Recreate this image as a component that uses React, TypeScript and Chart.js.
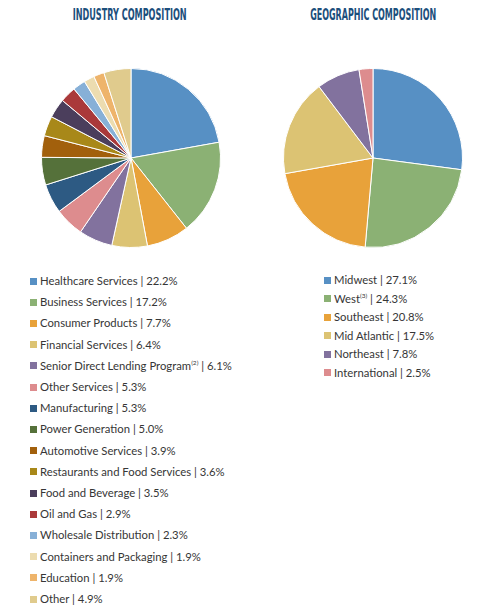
import React, { useEffect, useLayoutEffect, useRef } from "react";
import { Chart, registerables } from "chart.js";

Chart.register(...registerables);

const industryLabels = [
  "Healthcare Services",
  "Business Services",
  "Consumer Products",
  "Financial Services",
  "Senior Direct Lending Program",
  "Other Services",
  "Manufacturing",
  "Power Generation",
  "Automotive Services",
  "Restaurants and Food Services",
  "Food and Beverage",
  "Oil and Gas",
  "Wholesale Distribution",
  "Containers and Packaging",
  "Education",
  "Other",
];
const industryValues = [22.2, 17.2, 7.7, 6.4, 6.1, 5.3, 5.3, 5.0, 3.9, 3.6, 3.5, 2.9, 2.3, 1.9, 1.9, 4.9];
const industryColors = [
  "#5790c4", "#8bb174", "#e8a23a", "#dcc373", "#82729e", "#dd8c8e", "#2d5a83", "#55713a",
  "#a2600c", "#a88819", "#4b3e5c", "#aa393a", "#87b0d7", "#ecdcb0", "#eeb46b", "#e0cb8d",
];
const industryFootnotes: Record<string, string> = { "Senior Direct Lending Program": "(2)" };

const geoLabels = ["Midwest", "West", "Southeast", "Mid Atlantic", "Northeast", "International"];
const geoValues = [27.1, 24.3, 20.8, 17.5, 7.8, 2.5];
const geoColors = ["#5790c4", "#8bb174", "#e8a23a", "#dcc373", "#82729e", "#dd8c8e"];
const geoFootnotes: Record<string, string> = { West: "(3)" };

const titles = ["INDUSTRY COMPOSITION", "GEOGRAPHIC COMPOSITION"];

function Pie(props: { values: number[]; labels: string[]; colors: string[]; left: number; top: number; size: number }) {
  const ref = useRef<HTMLCanvasElement>(null);
  useEffect(() => {
    const chart = new Chart(ref.current as HTMLCanvasElement, {
      type: "pie",
      data: {
        labels: props.labels,
        datasets: [
          {
            data: props.values,
            backgroundColor: props.colors,
            borderColor: "#ffffff",
            borderWidth: 1,
          },
        ],
      },
      options: {
        responsive: false,
        animation: false,
        layout: { padding: 0 },
        plugins: { legend: { display: false }, tooltip: { enabled: false }, title: { display: false } },
      },
    });
    return () => chart.destroy();
  }, []);
  return (
    <canvas
      ref={ref}
      width={props.size}
      height={props.size}
      style={{ position: "absolute", left: props.left, top: props.top, width: props.size, height: props.size }}
    />
  );
}

function Title(props: { text: string; cx: number; top: number; width: number }) {
  const ref = useRef<HTMLSpanElement>(null);
  useLayoutEffect(() => {
    const el = ref.current;
    if (!el) return;
    el.style.transform = "none";
    const w = el.getBoundingClientRect().width;
    el.style.transform = `scaleX(${props.width / w})`;
  }, []);
  return (
    <div style={{ position: "absolute", left: props.cx - 150, top: props.top, width: 300, textAlign: "center" }}>
      <span
        ref={ref}
        style={{
          display: "inline-block",
          fontFamily: "'DejaVu Sans Condensed', 'Liberation Sans Narrow', sans-serif",
          fontWeight: 700,
          fontSize: 15,
          lineHeight: "15px",
          color: "#1c4f7c",
          transformOrigin: "center",
          whiteSpace: "nowrap",
        }}
      >
        {props.text}
      </span>
    </div>
  );
}

function Legend(props: {
  labels: string[];
  values: number[];
  colors: string[];
  notes: Record<string, string>;
  left: number;
  top: number;
  step: number;
}) {
  return (
    <div>
      {props.labels.map((l, i) => (
        <div
          key={l}
          style={{
            position: "absolute",
            left: props.left,
            top: props.top + i * props.step - 8,
            height: 16,
            lineHeight: "16px",
            whiteSpace: "nowrap",
            fontFamily: "Lato, 'Open Sans', sans-serif",
            fontSize: 11.3,
            color: "#363636",
          }}
        >
          <span
            style={{
              display: "inline-block",
              width: 7,
              height: 7,
              background: props.colors[i],
              marginRight: 3,
              verticalAlign: "middle",
              position: "relative",
              top: -1,
            }}
          />
          {l}
          {props.notes[l] ? (
            <sup style={{ fontSize: 6.5, lineHeight: 0, verticalAlign: "super" }}>{props.notes[l]}</sup>
          ) : null}
          {" | " + props.values[i].toFixed(1) + "%"}
        </div>
      ))}
    </div>
  );
}

export default function App() {
  return (
    <div style={{ position: "absolute", left: 0, top: 0, width: 484, height: 608, background: "#fff", overflow: "hidden" }}>
      <Title text={titles[0]} cx={130} top={6} width={114} />
      <Title text={titles[1]} cx={373} top={6} width={126} />
      <Pie values={industryValues} labels={industryLabels} colors={industryColors} left={41} top={68} size={180} />
      <Pie values={geoValues} labels={geoLabels} colors={geoColors} left={283} top={68} size={180} />
      <Legend
        labels={industryLabels}
        values={industryValues}
        colors={industryColors}
        notes={industryFootnotes}
        left={30}
        top={281}
        step={21.2}
      />
      <Legend
        labels={geoLabels}
        values={geoValues}
        colors={geoColors}
        notes={geoFootnotes}
        left={324}
        top={280}
        step={18.55}
      />
    </div>
  );
}
